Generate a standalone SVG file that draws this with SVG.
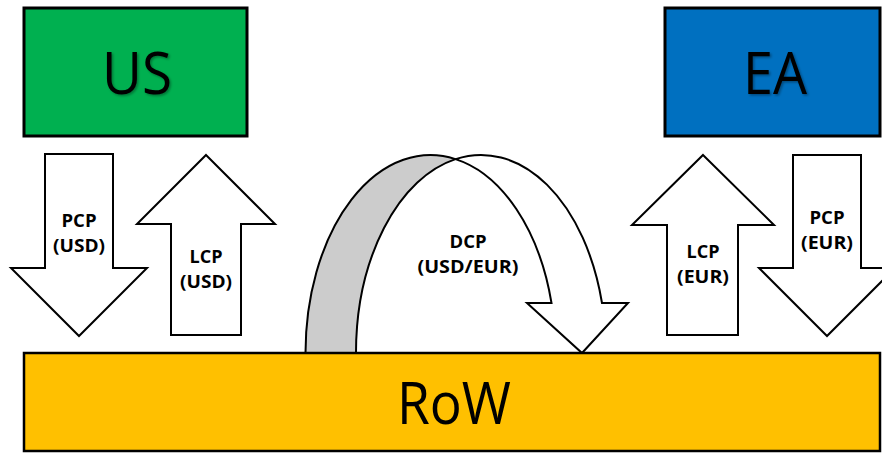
<svg xmlns="http://www.w3.org/2000/svg" width="882" height="453" viewBox="0 0 882 453">
  <defs>
    <style>
      .box { stroke: #000; stroke-width: 3; }
      .arrow { fill: #fff; stroke: #000; stroke-width: 2; stroke-linejoin: miter; }
      .big { font-family: "Open Sans", "Liberation Sans", sans-serif; font-size: 58px; fill: #000; text-anchor: middle; }
      .lbl { font-family: "Open Sans", "Liberation Sans", sans-serif; font-size: 18px; font-weight: bold; fill: #000; text-anchor: middle; }
    </style>
    <filter id="shadow" x="-20%" y="-20%" width="140%" height="140%">
      <feDropShadow dx="1.5" dy="1.5" stdDeviation="1" flood-color="#000" flood-opacity="0.35"/>
    </filter>
  </defs>
  <rect width="882" height="453" fill="#fff"/>

  <g id="connectors">
    <g id="pcp-usd">
      <path class="arrow" d="M45,154 H113 V268 H147 L79,336 L11,268 H45 Z"/>
      <text class="lbl" x="79" y="227" textLength="35" lengthAdjust="spacingAndGlyphs">PCP</text>
      <text class="lbl" x="79" y="252" textLength="52" lengthAdjust="spacingAndGlyphs">(USD)</text>
    </g>
    <g id="lcp-usd">
      <path class="arrow" d="M206,155 L275,224 H241 V335 H171 V224 H137 Z"/>
      <text class="lbl" x="206" y="263" textLength="33" lengthAdjust="spacingAndGlyphs">LCP</text>
      <text class="lbl" x="206" y="288" textLength="52" lengthAdjust="spacingAndGlyphs">(USD)</text>
    </g>
    <g id="dcp">
      <path d="M305.5,353 A125,198 0 0 1 455.5,159.1 A125,198 0 0 0 356,353 Z" fill="#cccccc" stroke="#000" stroke-width="2"/>
      <path class="arrow" d="M455.5,159.1 A125,198 0 0 1 602,303 H628 L582,353 L527,303 H551.5 A125,198 0 0 0 455.5,159.1 Z"/>
      <text class="lbl" x="468" y="248" textLength="37" lengthAdjust="spacingAndGlyphs">DCP</text>
      <text class="lbl" x="468" y="273" textLength="101" lengthAdjust="spacingAndGlyphs">(USD/EUR)</text>
    </g>
    <g id="lcp-eur">
      <path class="arrow" d="M703,155 L774,225 H738 V335 H667 V225 H632 Z"/>
      <text class="lbl" x="703" y="258" textLength="33" lengthAdjust="spacingAndGlyphs">LCP</text>
      <text class="lbl" x="703" y="283" textLength="52" lengthAdjust="spacingAndGlyphs">(EUR)</text>
    </g>
    <g id="pcp-eur">
      <path class="arrow" d="M793,155 H861 V268 H895 L827,336 L759,268 H793 Z"/>
      <text class="lbl" x="827" y="224" textLength="35" lengthAdjust="spacingAndGlyphs">PCP</text>
      <text class="lbl" x="827" y="249" textLength="52" lengthAdjust="spacingAndGlyphs">(EUR)</text>
    </g>
  </g>

  <g id="us">
    <rect class="box" x="24" y="8" width="223" height="128" fill="#00b050"/>
    <text class="big" x="137" y="94" textLength="70" lengthAdjust="spacingAndGlyphs" filter="url(#shadow)">US</text>
  </g>
  <g id="ea">
    <rect class="box" x="665" y="8" width="215" height="128" fill="#0070c0"/>
    <text class="big" x="775" y="94" textLength="64" lengthAdjust="spacingAndGlyphs" filter="url(#shadow)">EA</text>
  </g>
  <g id="row">
    <rect x="24" y="353" width="856" height="98" fill="#ffc000" stroke="#000" stroke-width="2.5"/>
    <text class="big" x="454" y="424" font-size="55" textLength="114" lengthAdjust="spacingAndGlyphs">RoW</text>
  </g>
</svg>
